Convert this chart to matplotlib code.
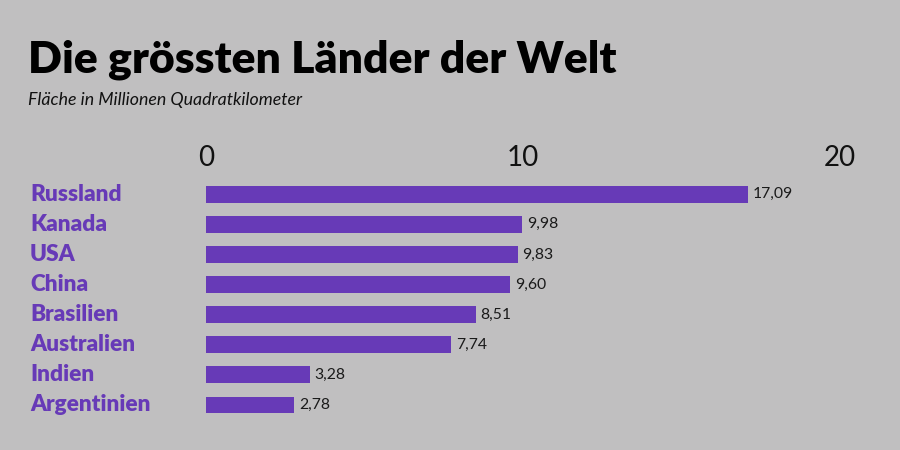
import matplotlib
matplotlib.use("Agg")
import matplotlib.pyplot as plt
from matplotlib.transforms import blended_transform_factory

countries = ["Russland", "Kanada", "USA", "China", "Brasilien", "Australien", "Indien", "Argentinien"]
areas = [17.09, 9.98, 9.83, 9.60, 8.51, 7.74, 3.28, 2.78]
value_labels = ["17,09", "9,98", "9,83", "9,60", "8,51", "7,74", "3,28", "2,78"]
xticks = [0, 10, 20]

BG = "#c0bfc0"
PURPLE = "#673ab7"
FONT = ["Lato", "DejaVu Sans"]

fig = plt.figure(figsize=(9, 4.5), dpi=100, facecolor=BG)
ax = fig.add_axes([0.229, 0.0667, 0.704, 0.535])
ax.set_facecolor(BG)

y = list(range(len(countries)))
ax.barh(y, areas, height=0.56, color=PURPLE)
ax.set_xlim(0, 20)
ax.set_ylim(len(countries) - 0.5, -0.5)

for yi, v, lab in zip(y, areas, value_labels):
    ax.text(v + 0.15, yi, lab, va="center", ha="left", fontsize=11.3,
            family=FONT, color="#1a1a1a")

ax.xaxis.tick_top()
ax.set_xticks(xticks)
ax.set_xticklabels([str(t) for t in xticks], family=FONT, fontsize=20,
                   fontweight="normal", color="#111111")
ax.tick_params(axis="x", length=0, pad=6)
ax.set_yticks([])
for s in ax.spines.values():
    s.set_visible(False)

trans = blended_transform_factory(fig.transFigure, ax.transData)
for yi, c in zip(y, countries):
    ax.text(30 / 900, yi, c, transform=trans, va="center", ha="left", fontsize=16.3,
            fontweight="heavy", family=FONT, color=PURPLE)

fig.text(28 / 900, 1 - 60 / 450, "Die grössten Länder der Welt", fontsize=32, fontweight="heavy",
         family=FONT, color="black", va="center", ha="left")
fig.text(28 / 900, 1 - 100 / 450, "Fläche in Millionen Quadratkilometer", fontsize=12.8, style="italic",
         family=FONT, color="#111111", va="center", ha="left")

fig.savefig("out.png", dpi=100, facecolor=BG)
